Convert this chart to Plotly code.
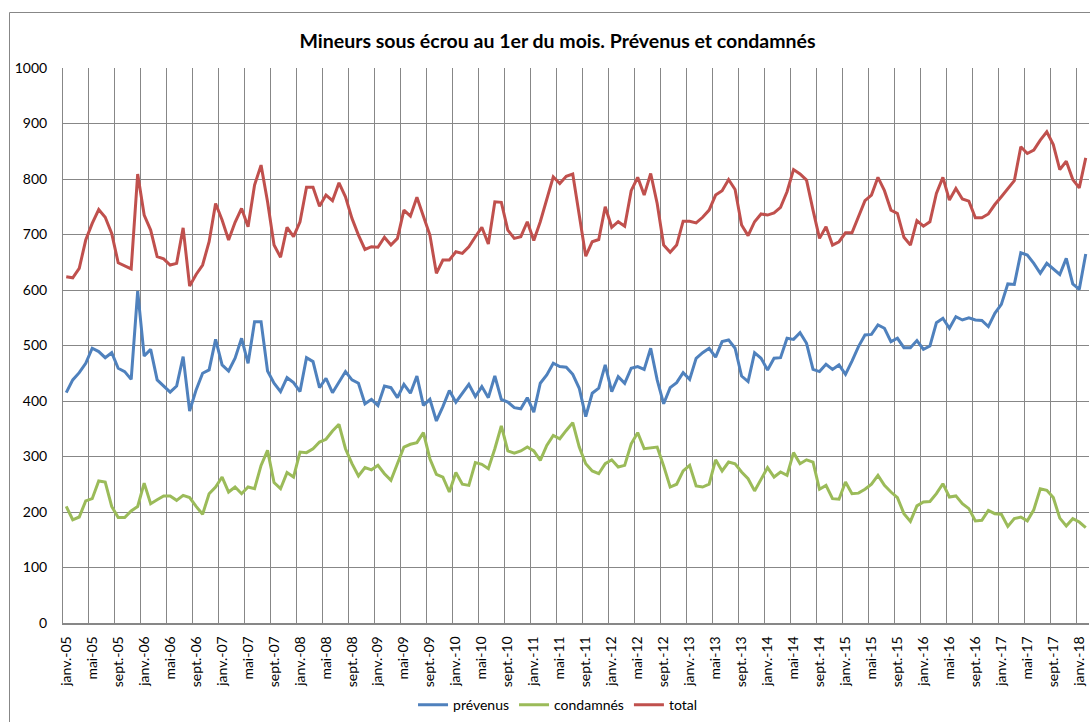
import plotly.graph_objects as go

# ---- data (monthly, janv. 2005 -> févr. 2018) ----
month_abbr = ["janv.", "févr.", "mars", "avr.", "mai", "juin",
              "juil.", "août", "sept.", "oct.", "nov.", "déc."]
start_year = 2005
n_months = 158

prevenus = [
    415, 438, 451, 468, 495, 489, 478, 487, 459, 453, 439, 598, 481, 493, 438, 427, 416, 427, 480, 382, 420, 450, 456, 511, 465, 454, 477,
    513, 468, 543, 543, 454, 432, 417, 442, 433, 417, 478, 471, 424, 441, 415, 435, 453, 438, 432, 395, 403, 392, 427, 424, 406, 430,
    414, 445, 392, 403, 364, 390, 419, 398, 414, 430, 408, 426, 406, 445, 403, 398, 388, 386, 406, 380, 432, 447, 468, 462, 461, 448,
    423, 372, 414, 423, 465, 417, 444, 432, 459, 462, 457, 495, 438, 395, 424, 433, 451, 439, 477, 487, 495, 479, 507, 510, 495,
    445, 435, 487, 477, 456, 477, 478, 513, 511, 523, 504, 457, 453, 466, 457, 465, 448, 472, 498, 519, 520, 537, 531, 507, 513, 496,
    496, 509, 493, 499, 541, 549, 531, 552, 546, 550, 546, 545, 534, 558, 574, 611, 610, 667, 663, 648, 630, 648, 638, 628, 657, 611, 601, 665,
]

condamnes = [
    210, 186, 191, 220, 224, 256, 254, 210, 190, 190, 202, 210, 252, 215, 222, 229, 229, 221, 230, 226, 210, 196, 233, 245, 263, 236, 245,
    233, 245, 242, 284, 311, 253, 242, 271, 263, 308, 307, 314, 326, 331, 346, 358, 314, 287, 265, 280, 276, 284, 269, 257, 287, 317,
    322, 325, 343, 296, 268, 263, 236, 271, 250, 248, 289, 286, 278, 314, 355, 310, 306, 310, 317, 310, 293, 320, 338, 332, 347, 361,
    317, 287, 274, 269, 287, 294, 281, 284, 323, 343, 314, 316, 317, 283, 245, 250, 274, 284, 247, 245, 250, 294, 274, 290, 287,
    272, 260, 238, 260, 280, 263, 272, 266, 307, 287, 294, 290, 241, 248, 224, 223, 254, 233, 234, 241, 250, 266, 248, 236, 226, 197,
    183, 211, 218, 219, 233, 251, 227, 229, 215, 206, 184, 185, 203, 197, 196, 174, 188, 191, 184, 204, 242, 239, 226, 189, 175, 188, 182, 172,
]

total = [
    624, 622, 639, 690, 720, 745, 731, 702, 649, 643, 638, 809, 735, 708, 660, 656, 645, 648, 712, 607, 628, 645, 687, 756, 726, 690, 722,
    747, 714, 789, 825, 759, 681, 659, 713, 696, 723, 785, 785, 751, 771, 761, 793, 768, 729, 699, 673, 678, 677, 695, 681, 693, 744,
    733, 767, 733, 699, 630, 654, 654, 669, 666, 678, 696, 713, 683, 759, 758, 708, 693, 696, 723, 689, 723, 765, 804, 792, 805, 809,
    738, 661, 687, 691, 750, 713, 723, 715, 779, 803, 771, 810, 756, 681, 668, 681, 724, 724, 721, 731, 744, 771, 779, 799, 781,
    717, 698, 723, 737, 735, 739, 749, 777, 817, 809, 798, 744, 693, 714, 681, 687, 703, 703, 731, 761, 771, 803, 779, 744, 738, 695,
    681, 725, 715, 723, 774, 803, 762, 783, 764, 760, 730, 730, 737, 754, 768, 783, 797, 858, 846, 852, 870, 885, 862, 817, 832, 799, 784, 838,
]

series_names = ["prévenus", "condamnés", "total"]
series_colors = ["#4F81BD", "#9BBB59", "#C0504D"]

# category labels
labels = [f"{month_abbr[i % 12]}-{(start_year + i // 12) % 100:02d}" for i in range(n_months)]
x = list(range(n_months))
tick_idx = list(range(0, n_months, 4))
grid_pos = [k - 0.5 for k in range(0, n_months + 1, 4)]

FONT = "Lato, 'Open Sans', sans-serif"
GRID = "#878787"

W, H = 1090, 722

fig = go.Figure()
for name, vals, col in zip(series_names, [prevenus, condamnes, total], series_colors):
    fig.add_trace(go.Scatter(
        x=x, y=vals, mode="lines", name=name,
        line=dict(color=col, width=3, shape="linear"),
        hoverinfo="x+y+name",
    ))

fig.update_layout(
    width=W, height=H,
    margin=dict(l=63, r=1, t=68, b=99),
    paper_bgcolor="white", plot_bgcolor="white",
    font=dict(family=FONT, size=14, color="#000000"),
    title=dict(
        text="<b>Mineurs sous écrou au 1er du mois. Prévenus et condamnés</b>",
        font=dict(family=FONT, size=19.5, color="#000000"),
        x=0.482, xref="paper", xanchor="center",
        y=1 - 41 / H, yref="container", yanchor="middle",
    ),
    showlegend=True,
    legend=dict(
        orientation="h", x=0.482, xanchor="center",
        y=-0.148, yanchor="middle",
        font=dict(family=FONT, size=14, color="#000000"),
        itemwidth=30, tracegroupgap=0,
        bgcolor="rgba(0,0,0,0)",
    ),
    shapes=[dict(
        type="rect", xref="paper", yref="paper",
        x0=(9.5 - 63) / 1026, x1=1.02,
        y0=-0.2, y1=(623 - 12.5) / 555,
        line=dict(color=GRID, width=1), fillcolor="rgba(0,0,0,0)",
        layer="below",
    )],
)

fig.update_xaxes(
    range=[-0.5, n_months - 0.5],
    tickmode="array", tickvals=tick_idx, ticktext=[labels[i] for i in tick_idx],
    tickangle=-90, showgrid=False, zeroline=False,
    showline=True, linecolor=GRID, linewidth=1.5,
    ticks="", ticklabelstandoff=6,
    tickfont=dict(family=FONT, size=14, color="#000000"),
    minor=dict(tickmode="array", tickvals=grid_pos, showgrid=True,
               gridcolor=GRID, gridwidth=1, ticks=""),
)
fig.update_yaxes(
    range=[0, 1000], dtick=100, tick0=0,
    showgrid=True, gridcolor=GRID, gridwidth=1, zeroline=False,
    showline=True, linecolor=GRID, linewidth=1,
    ticks="", ticklabelstandoff=12,
    tickfont=dict(family=FONT, size=14, color="#000000"),
)

# place the figure flush with the window (no default page margin)
fig.write_html(
    "out.html",
    config={"displayModeBar": False},
    post_script="document.body.style.margin='0';document.body.style.overflow='hidden';",
)
